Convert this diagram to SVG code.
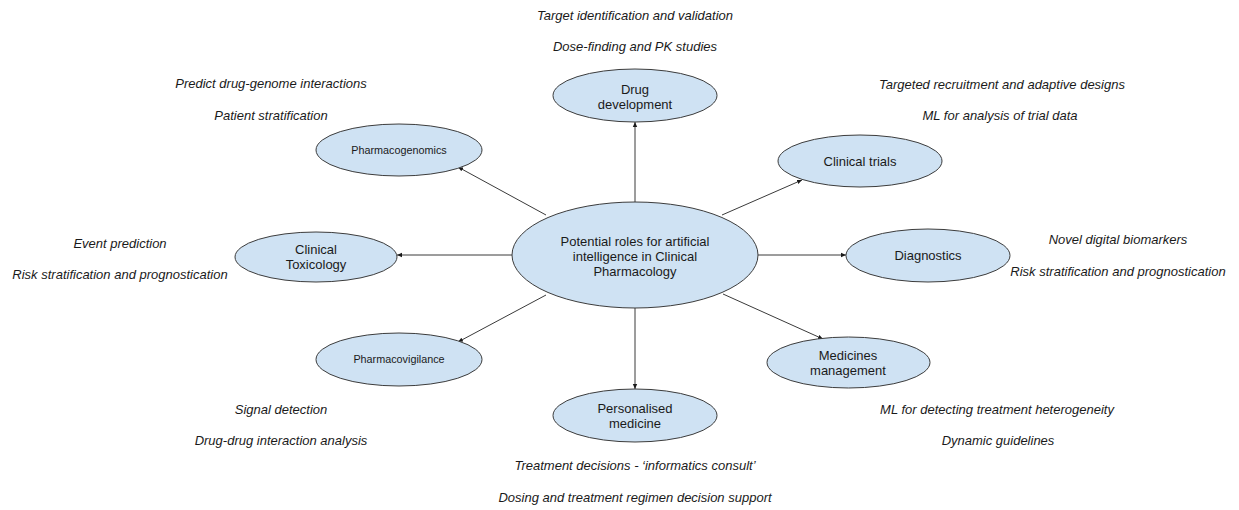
<svg xmlns="http://www.w3.org/2000/svg" width="1239" height="510" viewBox="0 0 1239 510">
<style>
.node ellipse{fill:#cfe2f3;stroke:#3c3c3c;stroke-width:1}
.lbl{font-family:"Liberation Sans",Arial,sans-serif;font-size:13px;fill:#1a1a1a;text-anchor:middle;dominant-baseline:central}
.sm{font-size:10.8px}
.note{font-family:"Liberation Sans",Arial,sans-serif;font-size:13px;font-style:italic;fill:#1a1a1a;text-anchor:middle;dominant-baseline:central}
.conn line{stroke:#3a3a3a;stroke-width:1;fill:none;marker-end:url(#ah)}
</style>
<defs>
<marker id="ah" markerUnits="userSpaceOnUse" markerWidth="6" markerHeight="6" refX="5" refY="3" orient="auto">
<path d="M0,0.8 L5,3 L0,5.2 Z" fill="#1a1a1a"/>
</marker>
</defs>
<rect width="1239" height="510" fill="#ffffff"/>
<g id="connectors" class="conn">
<line x1="635" y1="202" x2="635" y2="122"/>
<line x1="546" y1="215" x2="458" y2="167"/>
<line x1="512" y1="255" x2="397" y2="255"/>
<line x1="546" y1="295" x2="458" y2="342"/>
<line x1="635" y1="308" x2="635" y2="389"/>
<line x1="723" y1="294" x2="823" y2="339"/>
<line x1="758" y1="255" x2="846" y2="255"/>
<line x1="722" y1="215" x2="802" y2="180"/>
</g>
<g id="center" class="node">
<ellipse cx="635" cy="255" rx="123" ry="53"/>
<text class="lbl" x="635" y="241">Potential roles for artificial</text>
<text class="lbl" x="635" y="256">intelligence in Clinical</text>
<text class="lbl" x="635" y="271">Pharmacology</text>
</g>
<g id="drug-development" class="node">
<ellipse cx="635" cy="95.5" rx="82" ry="26.5"/>
<text class="lbl" x="635" y="89">Drug</text>
<text class="lbl" x="635" y="104">development</text>
</g>
<g id="pharmacogenomics" class="node">
<ellipse cx="399" cy="150" rx="83" ry="26"/>
<text class="lbl sm" x="399" y="150">Pharmacogenomics</text>
</g>
<g id="clinical-trials" class="node">
<ellipse cx="860" cy="161" rx="82" ry="26"/>
<text class="lbl" x="860" y="161">Clinical trials</text>
</g>
<g id="clinical-toxicology" class="node">
<ellipse cx="316" cy="257" rx="81" ry="25"/>
<text class="lbl" x="316" y="249">Clinical</text>
<text class="lbl" x="316" y="264">Toxicology</text>
</g>
<g id="diagnostics" class="node">
<ellipse cx="928" cy="255.5" rx="82" ry="26.5"/>
<text class="lbl" x="928" y="255">Diagnostics</text>
</g>
<g id="pharmacovigilance" class="node">
<ellipse cx="399" cy="359.5" rx="83" ry="26.5"/>
<text class="lbl sm" x="399" y="359">Pharmacovigilance</text>
</g>
<g id="medicines-management" class="node">
<ellipse cx="848.5" cy="362.5" rx="81.5" ry="25.5"/>
<text class="lbl" x="848" y="355">Medicines</text>
<text class="lbl" x="848" y="370">management</text>
</g>
<g id="personalised-medicine" class="node">
<ellipse cx="635" cy="415.5" rx="82" ry="26.5"/>
<text class="lbl" x="635" y="408">Personalised</text>
<text class="lbl" x="635" y="423">medicine</text>
</g>
<g id="notes">
<text class="note" x="635" y="15">Target identification and validation</text>
<text class="note" x="635" y="46">Dose-finding and PK studies</text>
<text class="note" x="271" y="83">Predict drug-genome interactions</text>
<text class="note" x="271" y="115">Patient stratification</text>
<text class="note" x="1002" y="84">Targeted recruitment and adaptive designs</text>
<text class="note" x="1000" y="115">ML for analysis of trial data</text>
<text class="note" x="120" y="243">Event prediction</text>
<text class="note" x="120" y="274">Risk stratification and prognostication</text>
<text class="note" x="1118" y="239">Novel digital biomarkers</text>
<text class="note" x="1118" y="271">Risk stratification and prognostication</text>
<text class="note" x="281" y="409">Signal detection</text>
<text class="note" x="281" y="440">Drug-drug interaction analysis</text>
<text class="note" x="997" y="409">ML for detecting treatment heterogeneity</text>
<text class="note" x="998" y="440">Dynamic guidelines</text>
<text class="note" x="635" y="465">Treatment decisions - ‘informatics consult’</text>
<text class="note" x="635" y="497">Dosing and treatment regimen decision support</text>
</g>
</svg>
